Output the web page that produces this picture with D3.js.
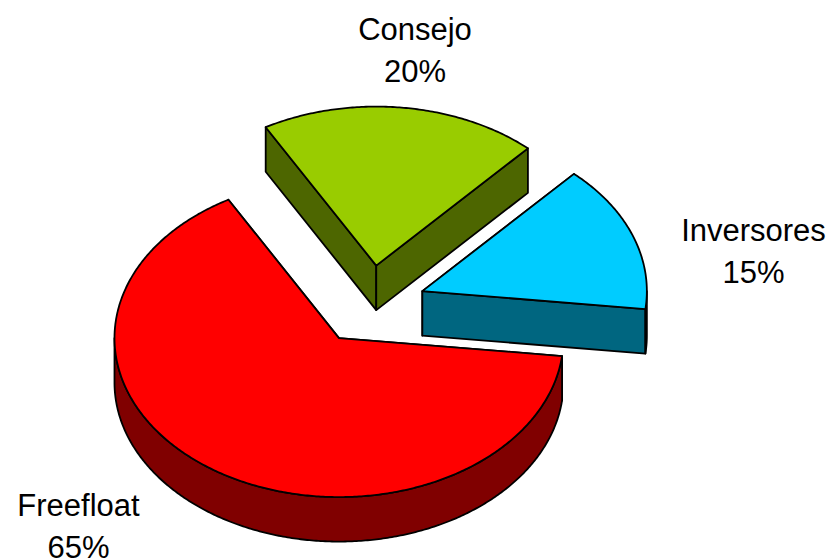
<!DOCTYPE html>
<html>
<head>
<meta charset="utf-8">
<script src="https://cdn.jsdelivr.net/npm/d3@7"></script>
<style>
html,body{margin:0;padding:0;background:#fff;overflow:hidden}
svg{display:block}
text{font-family:"Liberation Sans",Arial,sans-serif;font-size:31px;fill:#000;text-anchor:middle}
</style>
</head>
<body>
<div id="chart"></div>
<script>
// Data
const categories = ["Consejo", "Inversores", "Freefloat"];
const shares = [20, 15, 65];
const topColors = ["#99CC00", "#00CCFF", "#FF0000"];
const sideColors = ["#4D6600", "#006680", "#800000"];

// Layout
const W = 829, H = 559;
const cx = 369.9, cy = 305, rx = 224.5, ry = 159, depth = 44.5, explode = 56;
const labelPos = [[415, 40], [753.5, 241], [78.5, 516]];
const lineGap = 41.5;
const startDeg = -29.5;

const svg = d3.select("#chart").append("svg").attr("width", W).attr("height", H);

const pie = d3.pie().sort(null)
  .startAngle(startDeg * Math.PI / 180)
  .endAngle((startDeg + 360) * Math.PI / 180);
const arcs = pie(shares);

const line = d3.line();
const pt = (c, a, dz = 0) => [c[0] + rx * Math.sin(a), c[1] - ry * Math.cos(a) + dz];
const sample = (a0, a1) => {
  const n = Math.max(2, Math.ceil(Math.abs(a1 - a0) / 0.01));
  return d3.range(n + 1).map(i => a0 + (a1 - a0) * i / n);
};

const slices = arcs.map((d, i) => {
  const mid = (d.startAngle + d.endAngle) / 2;
  const ratio = ry / rx;
  const c = [cx + explode * Math.sin(mid), cy - explode * ratio * Math.cos(mid)];
  return {d, i, c};
});

const g = svg.append("g").attr("stroke", "#000").attr("stroke-width", 1.8).attr("stroke-linejoin", "round");

slices.forEach(({d, i, c}) => {
  const sg = g.append("g");
  const side = sideColors[i];
  // radial cut faces
  [d.startAngle, d.endAngle].forEach(a => {
    const p = pt(c, a);
    sg.append("path").attr("fill", side).attr("d", line([
      c, p, [p[0], p[1] + depth], [c[0], c[1] + depth]
    ]) + "Z");
  });
  // outer rim where it faces the viewer (angles between 90 and 270 degrees)
  [0, 2 * Math.PI].forEach(turn => {
    const lo = Math.max(d.startAngle, Math.PI / 2 + turn);
    const hi = Math.min(d.endAngle, 3 * Math.PI / 2 + turn);
    if (hi > lo) {
      const as = sample(lo, hi);
      const pts = as.map(a => pt(c, a)).concat(as.slice().reverse().map(a => pt(c, a, depth)));
      sg.append("path").attr("fill", side).attr("d", line(pts) + "Z");
    }
  });
  // top face
  const top = [c].concat(sample(d.startAngle, d.endAngle).map(a => pt(c, a)));
  sg.append("path").attr("fill", topColors[i]).attr("d", line(top) + "Z");
});

categories.forEach((name, i) => {
  const [x, y] = labelPos[i];
  svg.append("text").attr("x", x).attr("y", y).text(name);
  svg.append("text").attr("x", x).attr("y", y + lineGap).text(shares[i] + "%");
});
</script>
</body>
</html>
